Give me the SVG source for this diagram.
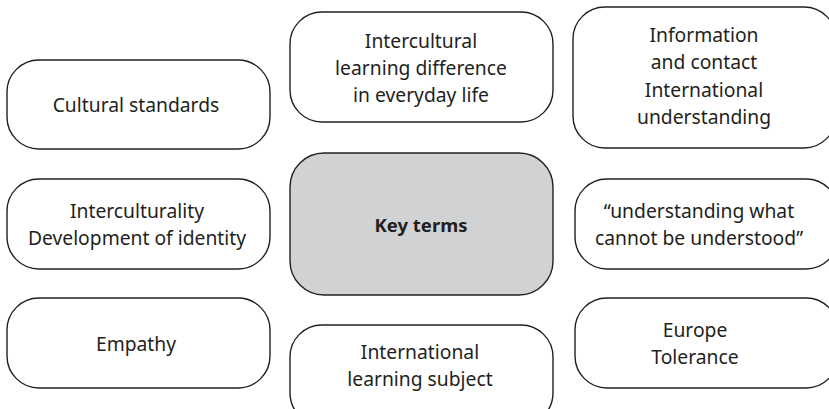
<svg xmlns="http://www.w3.org/2000/svg" width="829" height="409" viewBox="0 0 829 409">
<style>
.box{fill:#ffffff;stroke:#231f20;stroke-width:1.4}
.key{fill:#d1d2d4;stroke:#231f20;stroke-width:1.4}
text{font-family:"Noto Sans","Open Sans",sans-serif;font-size:19.3px;fill:#231f20;text-anchor:middle;dominant-baseline:central}
.bold{font-weight:bold;font-size:18.5px}
</style>
<rect width="829" height="409" fill="#ffffff"/>
<g id="connectors"></g>
<g id="n_cultural">
<rect class="box" x="7" y="60" width="263" height="89" rx="32" ry="32"/>
<text x="136" y="104.5">Cultural standards</text>
</g>
<g id="n_interculturality">
<rect class="box" x="7" y="179" width="263" height="90" rx="32" ry="32"/>
<text x="137" y="210.5">Interculturality</text>
<text x="137" y="237.5">Development of identity</text>
</g>
<g id="n_empathy">
<rect class="box" x="7" y="298" width="263" height="90" rx="32" ry="32"/>
<text x="136" y="343">Empathy</text>
</g>
<g id="n_intercultural_learning">
<rect class="box" x="290" y="12" width="263" height="110" rx="32" ry="32"/>
<text x="421" y="40">Intercultural</text>
<text x="421" y="67">learning difference</text>
<text x="421" y="94">in everyday life</text>
</g>
<g id="n_key">
<rect class="key" x="290" y="153" width="263" height="142" rx="34" ry="34"/>
<text class="bold" x="421" y="224">Key terms</text>
</g>
<g id="n_international_learning">
<rect class="box" x="290" y="325" width="263" height="100" rx="32" ry="32"/>
<text x="420" y="351">International</text>
<text x="420" y="378">learning subject</text>
</g>
<g id="n_information">
<rect class="box" x="573" y="7" width="263" height="141" rx="32" ry="32"/>
<text x="704" y="34">Information</text>
<text x="704" y="61.5">and contact</text>
<text x="704" y="89">International</text>
<text x="704" y="116.5">understanding</text>
</g>
<g id="n_understanding">
<rect class="box" x="575" y="179" width="263" height="90" rx="32" ry="32"/>
<text x="699" y="210.5">“understanding what</text>
<text x="699" y="237.5">cannot be understood”</text>
</g>
<g id="n_europe">
<rect class="box" x="575" y="298" width="263" height="90" rx="32" ry="32"/>
<text x="695" y="329.5">Europe</text>
<text x="695" y="356.5">Tolerance</text>
</g>
</svg>
